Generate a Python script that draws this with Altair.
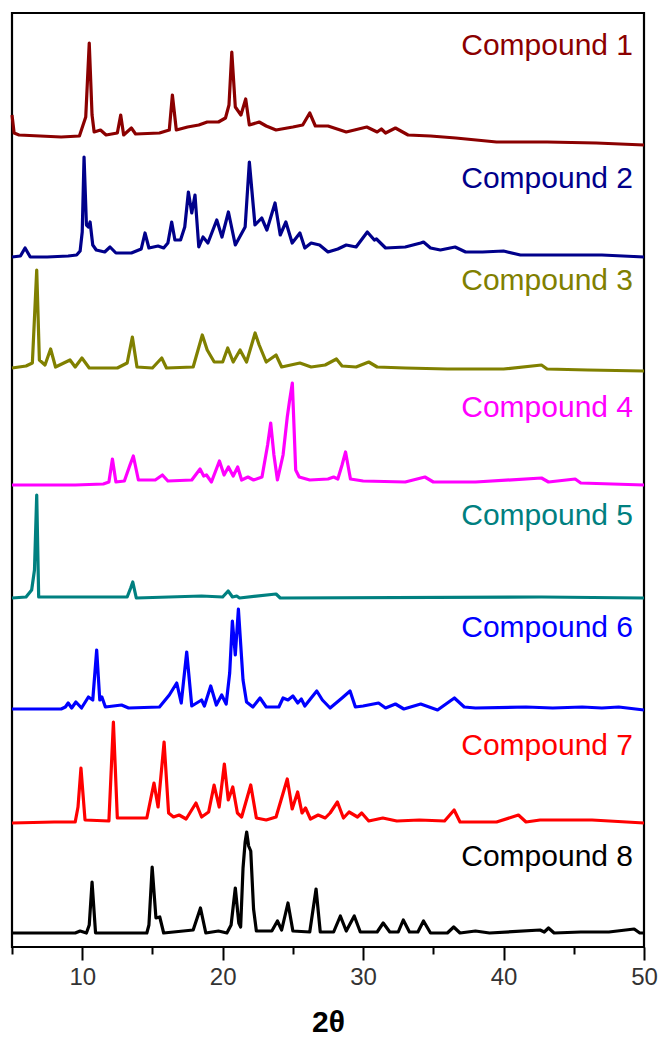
import altair as alt
import pandas as pd

FONT = "Arial, Liberation Sans, sans-serif"

names = [f"Compound {i}" for i in range(1, 9)]
colors = ["#8B0000", "#00008B", "#808000", "#FF00FF", "#008080", "#0000FF", "#FF0000", "#000000"]
# vertical stacking offsets (arbitrary intensity units)
offsets = [802, 690, 576, 462, 349, 237, 124, 14]
label_x = [49.22] * 8
label_y = [892, 759, 657, 530, 422, 310, 192, 81]

c1_x = [5.0, 5.15, 5.5, 7.0, 8.5, 9.8, 10.25, 10.5, 10.7, 10.85, 11.3, 11.7, 12.5, 12.74, 12.95, 13.5, 13.8,
        15.5, 16.2, 16.42, 16.7, 17.5, 18.3, 18.9, 19.7, 20.2, 20.45, 20.65, 20.9, 21.3, 21.64, 21.9, 22.6,
        23.1, 23.8, 25.0, 25.7, 26.2, 26.6, 27.5, 28.8, 30.26, 31.0, 31.3, 31.6, 32.3, 33.2, 34.8, 36.6,
        39.5, 43.1, 46.6, 50.0]
c1_y = [30, 12, 10, 9, 8, 9, 28, 102, 30, 13, 15, 10, 12, 30, 10, 17, 11,
        12, 15, 50, 15, 18, 20, 23, 23, 27, 40, 93, 38, 30, 46, 20, 23,
        19, 15, 18, 20, 32, 19, 19, 13, 18, 13, 16, 12, 17, 10, 9, 7,
        3, 3, 2, 0]

c2_x = [5.0, 5.6, 5.93, 6.3, 7.5, 9.0, 9.6, 9.85, 10.0, 10.13, 10.3, 10.45, 10.56, 10.75, 11.0, 11.6, 11.98,
        12.4, 13.5, 14.2, 14.47, 14.75, 15.4, 15.8, 16.1, 16.37, 16.6, 17.0, 17.3, 17.56, 17.8, 18.03, 18.3,
        18.6, 18.95, 19.58, 19.95, 20.41, 20.9, 21.6, 21.9, 22.3, 22.78, 23.15, 23.73, 24.1, 24.5, 24.95,
        25.5, 25.85, 26.3, 26.9, 27.5, 28.2, 28.8, 29.5, 30.3, 30.8, 30.95, 31.6, 33.0, 34.1, 34.3, 34.8,
        35.5, 36.55, 37.3, 38.5, 40.0, 41.2, 44.5, 47.0, 50.0]
c2_y = [0, 1, 9, 0, 0, 1, 2, 6, 25, 100, 32, 30, 35, 12, 7, 5, 10,
        4, 4, 8, 24, 9, 11, 9, 14, 35, 17, 17, 30, 65, 44, 62, 10,
        20, 14, 37, 20, 45, 12, 30, 95, 32, 39, 27, 54, 22, 35, 14,
        24, 9, 14, 12, 5, 8, 12, 10, 25, 17, 18, 9, 10, 14, 15, 9,
        7, 10, 5, 5, 6, 2, 2, 2, 0]

c3_x = [5.0, 6.0, 6.45, 6.76, 6.95, 7.35, 7.75, 8.1, 9.13, 9.5, 9.98, 10.5, 12.5, 13.2, 13.57, 13.9, 15.0,
        15.66, 16.0, 17.9, 18.55, 18.9, 19.4, 20.0, 20.36, 20.75, 21.24, 21.7, 22.31, 22.6, 23.1, 23.8,
        24.2, 25.5, 26.3, 27.3, 28.1, 28.5, 29.5, 30.4, 31.0, 33.0, 36.0, 40.0, 42.7, 43.1, 46.0, 50.0]
c3_y = [3, 5, 8, 101, 11, 6, 22, 4, 11, 4, 13, 3, 3, 8, 34, 4, 3,
        13, 3, 4, 36, 21, 9, 9, 23, 9, 21, 9, 38, 26, 9, 16,
        4, 8, 4, 6, 12, 5, 4, 9, 4, 3, 2, 2, 6, 2, 1, 0]

c4_x = [5.0, 9.5, 11.5, 11.9, 12.15, 12.4, 13.0, 13.4, 13.64, 14.0, 15.2, 15.71, 16.1, 17.8, 18.39, 18.65,
        18.85, 19.2, 19.77, 20.1, 20.41, 20.75, 21.07, 21.35, 21.8, 22.2, 22.8, 23.2, 23.42, 23.65, 23.9,
        24.3, 24.6, 24.75, 24.96, 25.2, 25.45, 26.2, 27.5, 27.9, 28.2, 28.5, 28.75, 29.1, 30.0, 33.0, 34.4,
        35.0, 38.0, 42.7, 43.2, 45.1, 45.5, 50.0]
c4_y = [0, 0, 1, 3, 26, 3, 4, 20, 29, 5, 5, 10, 4, 5, 16, 9,
        10, 3, 24, 10, 18, 9, 18, 5, 8, 5, 8, 40, 62, 30, 5,
        30, 68, 83, 102, 15, 8, 5, 6, 8, 6, 20, 33, 6, 4, 3, 8,
        3, 3, 7, 3, 6, 2, 0]

c5_x = [5.0, 6.0, 6.4, 6.6, 6.76, 6.9, 13.2, 13.45, 13.6, 13.85, 18.5, 20.0, 20.39, 20.7, 21.0, 21.2, 23.8,
        24.1, 42.7, 50.0]
c5_y = [0, 1, 8, 28, 103, 1, 1, 10, 16, 0, 2, 1, 7, 1, 2, 0, 4,
        0, 1, 0]

c6_x = [5.0, 8.5, 8.8, 9.0, 9.25, 9.55, 9.95, 10.44, 10.75, 11.03, 11.25, 11.4, 11.65, 12.8, 13.3, 15.5, 16.2,
        16.73, 17.05, 17.44, 17.8, 18.5, 18.7, 19.15, 19.55, 19.93, 20.25, 20.5, 20.69, 20.9, 21.12, 21.45,
        21.7, 22.15, 22.66, 23.1, 24.0, 24.3, 24.65, 25.0, 25.35, 25.6, 25.85, 26.3, 26.7, 27.1, 27.65,
        28.5, 29.07, 29.45, 30.0, 31.1, 31.6, 32.3, 32.9, 34.1, 35.3, 36.5, 37.2, 38.0, 41.6, 43.5, 45.6,
        47.0, 48.2, 50.0]
c6_y = [1, 1, 3, 7, 2, 8, 2, 13, 10, 60, 10, 13, 3, 5, 2, 3, 15,
        27, 7, 58, 4, 10, 4, 24, 5, 15, 6, 37, 89, 55, 101, 30,
        8, 3, 12, 3, 3, 12, 10, 14, 7, 11, 4, 12, 19, 10, 2,
        12, 19, 3, 4, 7, 2, 6, 1, 6, 0, 12, 3, 2, 3, 2, 3,
        2, 3, 0]

c7_x = [5.0, 8.0, 9.5, 9.7, 9.91, 10.2, 11.9, 12.22, 12.5, 14.6, 15.11, 15.4, 15.83, 16.15, 16.5, 16.9, 17.4,
        18.1, 18.5, 19.0, 19.39, 19.75, 20.12, 20.4, 20.72, 21.05, 21.35, 22.0, 22.4, 23.1, 23.8, 24.6,
        24.95, 25.34, 25.65, 25.9, 26.25, 26.8, 27.3, 27.65, 28.17, 28.6, 29.0, 29.6, 29.9, 30.4, 31.4,
        32.4, 34.0, 35.8, 36.48, 36.9, 39.5, 41.06, 41.6, 42.6, 45.0, 46.3, 50.0]
c7_y = [0, 1, 1, 16, 55, 3, 2, 101, 5, 5, 40, 16, 81, 10, 6, 8, 4,
        20, 6, 11, 38, 16, 59, 23, 36, 10, 6, 38, 5, 3, 6, 44,
        14, 31, 10, 15, 4, 8, 5, 10, 21, 5, 11, 6, 10, 2, 5,
        2, 3, 2, 13, 1, 1, 8, 1, 3, 3, 3, 0]

c8_x = [5.0, 9.5, 9.85, 10.3, 10.5, 10.7, 10.95, 14.6, 14.75, 14.98, 15.25, 15.52, 15.8, 17.9, 18.42, 18.8,
        19.7, 20.3, 20.6, 20.9, 21.15, 21.28, 21.45, 21.6, 21.71, 21.85, 22.0, 22.2, 22.4, 23.5, 23.9, 24.2,
        24.65, 25.0, 26.2, 26.65, 26.95, 27.9, 28.38, 28.8, 29.37, 29.8, 31.0, 31.43, 31.9, 32.5, 32.86,
        33.3, 33.9, 34.3, 34.8, 36.0, 36.45, 36.9, 38.0, 39.0, 42.6, 42.9, 43.2, 43.6, 45.5, 47.5, 49.3,
        49.7, 50.0]
c8_y = [0, 0, 2, 0, 8, 51, 0, 0, 8, 66, 15, 16, 0, 3, 25, 0,
        2, 0, 8, 45, 10, 6, 65, 91, 101, 87, 82, 24, 2, 2, 12, 3,
        30, 2, 1, 44, 1, 1, 17, 2, 17, 1, 1, 10, 1, 1, 13,
        1, 1, 12, 0, 0, 6, 0, 2, 0, 3, 1, 5, 0, 1, 1, 4,
        0, 0]

series_x = [c1_x, c2_x, c3_x, c4_x, c5_x, c6_x, c7_x, c8_x]
series_y = [c1_y, c2_y, c3_y, c4_y, c5_y, c6_y, c7_y, c8_y]

frames = []
for name, off, xs, ys in zip(names, offsets, series_x, series_y):
    d = pd.DataFrame({"theta": xs, "rel": ys})
    d["y"] = d["rel"] + off
    d["compound"] = name
    d["idx"] = range(len(d))
    frames.append(d)
df = pd.concat(frames, ignore_index=True)

labels = pd.DataFrame({"compound": names, "lx": label_x, "ly": label_y})

color = alt.Color("compound:N", scale=alt.Scale(domain=names, range=colors), legend=None)
xscale = alt.Scale(domain=[5, 50], nice=False, zero=False)
yscale = alt.Scale(domain=[0, 934], nice=False, zero=False)

xaxis = alt.Axis(
    values=list(range(5, 51, 5)),
    labelExpr="datum.value % 10 === 0 ? datum.label : ''",
    tickSize={"condition": {"test": "datum.value % 10 === 0", "value": 13}, "value": 7},
    tickWidth=2,
    tickColor="black",
    domain=False,
    grid=False,
    labelFontSize=24,
    labelFont=FONT,
    labelColor="#333333",
    labelPadding=5,
    labelFlush=False,
    title="2θ",
    titleFont=FONT,
    titleFontSize=30,
    titleFontWeight="bold",
    titleColor="black",
    titlePadding=18,
)

lines = alt.Chart(df).mark_line(strokeWidth=3.2, strokeJoin="round").encode(
    x=alt.X("theta:Q", scale=xscale, axis=xaxis),
    y=alt.Y("y:Q", scale=yscale, axis=None),
    color=color,
    order="idx:Q",
)

texts = alt.Chart(labels).mark_text(
    align="right", baseline="alphabetic", fontSize=30, font=FONT
).encode(
    x=alt.X("lx:Q", scale=xscale),
    y=alt.Y("ly:Q", scale=yscale),
    text="compound:N",
    color=color,
)

chart = alt.layer(lines, texts).properties(
    width=632,
    height=934,
    padding={"left": 12, "top": 13, "right": 15, "bottom": 93},
    autosize=alt.AutoSizeParams(type="none"),
).configure_view(stroke="black", strokeWidth=2.2)

chart.save("out.html", embed_options={"renderer": "svg", "actions": False})
